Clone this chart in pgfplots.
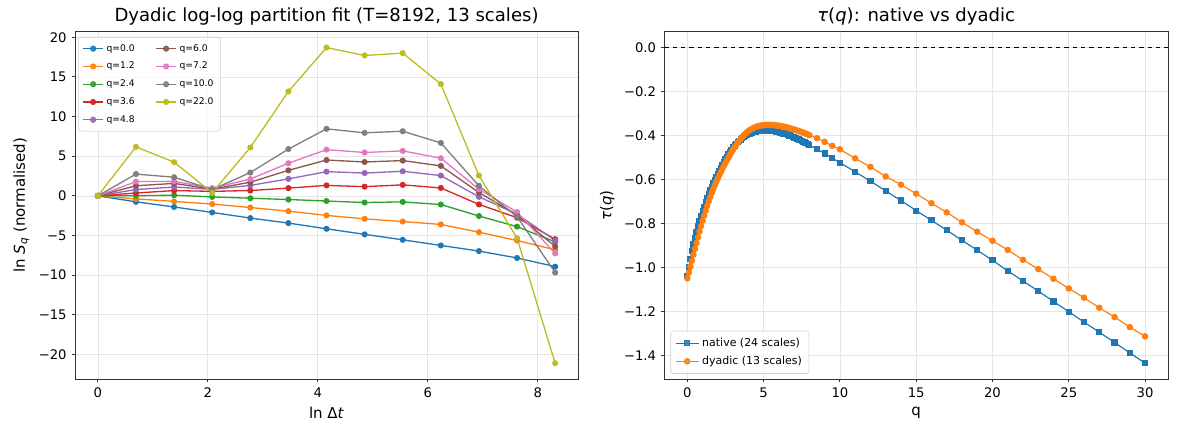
\documentclass[border=0pt]{standalone}
\usepackage{pgfplots}
\pgfplotsset{compat=1.18}
\usepackage{fontspec}
\setmainfont{DejaVu Sans}
\definecolor{c0}{HTML}{1F77B4}
\definecolor{c1}{HTML}{FF7F0E}
\definecolor{c2}{HTML}{2CA02C}
\definecolor{c3}{HTML}{D62728}
\definecolor{c4}{HTML}{9467BD}
\definecolor{c5}{HTML}{8C564B}
\definecolor{c6}{HTML}{E377C2}
\definecolor{c7}{HTML}{7F7F7F}
\definecolor{c8}{HTML}{BCBD22}
\pgfplotsset{
  common/.style={
    scale only axis, anchor=south west,
    tick pos=left, tick align=outside, major tick length=2.5pt,
    tick style={line width=0.6pt, black!80},
    axis line style={line width=0.6pt, black!80},
    grid=major, grid style={line width=0.5pt, black!10},
    tick label style={font=\fontsize{9.5}{11}\selectfont},
    label style={font=\fontsize{10.8}{13}\selectfont},
    title style={font=\fontsize{13}{15}\selectfont, yshift=-4.5pt},
    legend cell align=left,
  },
  sl/.style={line width=0.95pt, mark=*, mark size=1.7pt},
}
\begin{document}
\begin{tikzpicture}
\useasboundingbox (0,0) rectangle (848.16pt,311.04pt);
\begin{axis}[common,
  at={(54pt,38.16pt)}, width=362.2pt, height=250pt,
  xmin=-0.416, xmax=8.734, ymin=-23.09, ymax=20.69,
  xtick={0,2,4,6,8}, xticklabels={0,2,4,6,8},
  ytick={-20,-15,-10,-5,0,5,10,15,20},
  yticklabels={−20,−15,−10,−5,0,5,10,15,20},
  title={Dyadic log-log partition fit (T=8192, 13 scales)},
  xlabel={ln Δ\textit{t}},
  ylabel={ln \textit{S}\textsubscript{\textit{q}} (normalised)},
  legend columns=2,
  legend style={at={(0.006,0.985)}, anchor=north west, font=\fontsize{6.6}{8}\selectfont,
    draw=black!20, rounded corners=2pt, fill=white, fill opacity=0.8, text opacity=1,
    row sep=2.4pt, inner sep=3pt, /tikz/every even column/.append style={column sep=13pt}},
  legend image code/.code={\draw[mark repeat=2,mark phase=2] plot coordinates {(0pt,0pt) (7.2pt,0pt) (14.4pt,0pt)};},
]
\addplot[c0, sl, forget plot] coordinates {(0,0)(0.6931,-0.75)(1.3863,-1.40)(2.0794,-2.09)(2.7726,-2.80)(3.4657,-3.43)(4.1589,-4.15)(4.8520,-4.85)(5.5452,-5.54)(6.2383,-6.25)(6.9315,-6.96)(7.6246,-7.83)(8.3178,-8.92)};
\addplot[c1, sl, forget plot] coordinates {(0,0)(0.6931,-0.38)(1.3863,-0.70)(2.0794,-1.03)(2.7726,-1.47)(3.4657,-1.93)(4.1589,-2.46)(4.8520,-2.90)(5.5452,-3.24)(6.2383,-3.60)(6.9315,-4.58)(7.6246,-5.63)(8.3178,-6.80)};
\addplot[c2, sl, forget plot] coordinates {(0,0)(0.6931,0.02)(1.3863,0.08)(2.0794,-0.13)(2.7726,-0.30)(3.4657,-0.46)(4.1589,-0.65)(4.8520,-0.84)(5.5452,-0.76)(6.2383,-1.09)(6.9315,-2.54)(7.6246,-3.88)(8.3178,-5.80)};
\addplot[c3, sl, forget plot] coordinates {(0,0)(0.6931,0.36)(1.3863,0.67)(2.0794,0.57)(2.7726,0.67)(3.4657,0.98)(4.1589,1.32)(4.8520,1.16)(5.5452,1.39)(6.2383,1.00)(6.9315,-1.08)(7.6246,-2.75)(8.3178,-5.46)};
\addplot[c4, sl, forget plot] coordinates {(0,0)(0.6931,0.80)(1.3863,1.12)(2.0794,0.82)(2.7726,1.32)(3.4657,2.14)(4.1589,3.05)(4.8520,2.88)(5.5452,3.10)(6.2383,2.56)(6.9315,-0.12)(7.6246,-2.30)(8.3178,-5.63)};
\addplot[c5, sl, forget plot] coordinates {(0,0)(0.6931,1.28)(1.3863,1.57)(2.0794,0.86)(2.7726,1.72)(3.4657,3.22)(4.1589,4.52)(4.8520,4.27)(5.5452,4.45)(6.2383,3.78)(6.9315,0.42)(7.6246,-2.40)(8.3178,-6.38)};
\addplot[c6, sl, forget plot] coordinates {(0,0)(0.6931,1.80)(1.3863,1.83)(2.0794,0.98)(2.7726,2.12)(3.4657,4.12)(4.1589,5.83)(4.8520,5.47)(5.5452,5.67)(6.2383,4.75)(6.9315,0.83)(7.6246,-2.04)(8.3178,-7.25)};
\addplot[c7, sl, forget plot] coordinates {(0,0)(0.6931,2.75)(1.3863,2.35)(2.0794,0.80)(2.7726,2.94)(3.4657,5.90)(4.1589,8.45)(4.8520,7.95)(5.5452,8.15)(6.2383,6.68)(6.9315,1.26)(7.6246,-2.63)(8.3178,-9.67)};
\addplot[c8, sl, forget plot] coordinates {(0,0)(0.6931,6.18)(1.3863,4.25)(2.0794,0.38)(2.7726,6.10)(3.4657,13.17)(4.1589,18.70)(4.8520,17.70)(5.5452,18.00)(6.2383,14.10)(6.9315,2.56)(7.6246,-5.33)(8.3178,-21.10)};
\addlegendimage{c0, sl}\addlegendentry{q=0.0}
\addlegendimage{c5, sl}\addlegendentry{q=6.0}
\addlegendimage{c1, sl}\addlegendentry{q=1.2}
\addlegendimage{c6, sl}\addlegendentry{q=7.2}
\addlegendimage{c2, sl}\addlegendentry{q=2.4}
\addlegendimage{c7, sl}\addlegendentry{q=10.0}
\addlegendimage{c3, sl}\addlegendentry{q=3.6}
\addlegendimage{c8, sl}\addlegendentry{q=22.0}
\addlegendimage{c4, sl}\addlegendentry{q=4.8}
\end{axis}
\begin{axis}[common,
  at={(478.4pt,38.16pt)}, width=362.5pt, height=250pt,
  xmin=-1.5, xmax=31.5, ymin=-1.508, ymax=0.0718,
  xtick={0,5,10,15,20,25,30}, xticklabels={0,5,10,15,20,25,30},
  ytick={-1.4,-1.2,-1.0,-0.8,-0.6,-0.4,-0.2,0},
  yticklabels={−1.4,−1.2,−1.0,−0.8,−0.6,−0.4,−0.2,0.0},
  title={\textit{τ}(\textit{q}): native vs dyadic},
  xlabel={q},
  ylabel={\textit{τ}(\textit{q})},
  legend style={at={(0.012,0.015)}, anchor=south west, font=\fontsize{7.9}{9.5}\selectfont,
    draw=black!20, rounded corners=2pt, fill=white, fill opacity=0.8, text opacity=1,
    row sep=1.6pt, inner sep=3pt},
  legend image code/.code={\draw[mark repeat=2,mark phase=2] plot coordinates {(0pt,0pt) (8.4pt,0pt) (16.8pt,0pt)};},
]
\addplot[black, dashed, line width=0.6pt, forget plot] coordinates {(-1.5,0)(31.5,0)};
\addplot[c0, line width=0.85pt, mark=square*, mark size=1.8pt] coordinates {(0,-1.038)(0.1,-0.998)(0.2,-0.961)(0.3,-0.927)(0.4,-0.896)(0.5,-0.867)(0.6,-0.840)(0.7,-0.814)(0.8,-0.790)(0.9,-0.767)(1.0,-0.745)(1.1,-0.724)(1.2,-0.704)(1.3,-0.685)(1.4,-0.667)(1.5,-0.650)(1.6,-0.634)(1.7,-0.618)(1.8,-0.603)(1.9,-0.588)(2.0,-0.574)(2.1,-0.560)(2.2,-0.547)(2.3,-0.534)(2.4,-0.521)(2.5,-0.509)(2.6,-0.497)(2.7,-0.486)(2.8,-0.475)(2.9,-0.465)(3.0,-0.455)(3.1,-0.446)(3.2,-0.438)(3.3,-0.431)(3.4,-0.424)(3.5,-0.418)(3.6,-0.412)(3.7,-0.407)(3.8,-0.402)(3.9,-0.398)(4.0,-0.394)(4.1,-0.391)(4.2,-0.388)(4.3,-0.386)(4.4,-0.384)(4.5,-0.382)(4.6,-0.381)(4.7,-0.380)(4.8,-0.379)(4.9,-0.378)(5.0,-0.378)(5.1,-0.378)(5.2,-0.378)(5.3,-0.378)(5.4,-0.379)(5.5,-0.379)(5.6,-0.380)(5.7,-0.381)(5.8,-0.382)(5.9,-0.383)(6.0,-0.385)(6.1,-0.387)(6.2,-0.389)(6.3,-0.391)(6.4,-0.393)(6.5,-0.395)(6.6,-0.398)(6.7,-0.400)(6.8,-0.403)(6.9,-0.406)(7.0,-0.409)(7.1,-0.412)(7.2,-0.415)(7.3,-0.418)(7.4,-0.421)(7.5,-0.425)(7.6,-0.428)(7.7,-0.432)(7.8,-0.436)(7.9,-0.440)(8.0,-0.444)(8.5,-0.462)(9,-0.482)(9.5,-0.503)(10,-0.524)(11,-0.565)(12,-0.608)(13,-0.652)(14,-0.696)(15,-0.742)(16,-0.786)(17,-0.831)(18,-0.877)(19,-0.922)(20,-0.968)(21,-1.016)(22,-1.062)(23,-1.108)(24,-1.155)(25,-1.202)(26,-1.249)(27,-1.295)(28,-1.342)(29,-1.389)(30,-1.436)};
\addlegendentry{native (24 scales)}
\addplot[c1, line width=0.85pt, mark=*, mark size=1.9pt] coordinates {(0,-1.050)(0.1,-1.024)(0.2,-0.997)(0.3,-0.970)(0.4,-0.943)(0.5,-0.916)(0.6,-0.889)(0.7,-0.863)(0.8,-0.837)(0.9,-0.812)(1.0,-0.788)(1.1,-0.765)(1.2,-0.743)(1.3,-0.721)(1.4,-0.700)(1.5,-0.680)(1.6,-0.661)(1.7,-0.643)(1.8,-0.626)(1.9,-0.610)(2.0,-0.595)(2.1,-0.580)(2.2,-0.566)(2.3,-0.552)(2.4,-0.538)(2.5,-0.525)(2.6,-0.512)(2.7,-0.499)(2.8,-0.487)(2.9,-0.475)(3.0,-0.464)(3.1,-0.453)(3.2,-0.443)(3.3,-0.433)(3.4,-0.424)(3.5,-0.415)(3.6,-0.407)(3.7,-0.399)(3.8,-0.392)(3.9,-0.386)(4.0,-0.380)(4.1,-0.375)(4.2,-0.371)(4.3,-0.367)(4.4,-0.364)(4.5,-0.361)(4.6,-0.359)(4.7,-0.357)(4.8,-0.355)(4.9,-0.354)(5.0,-0.353)(5.1,-0.352)(5.2,-0.352)(5.3,-0.352)(5.4,-0.352)(5.5,-0.352)(5.6,-0.353)(5.7,-0.353)(5.8,-0.354)(5.9,-0.355)(6.0,-0.356)(6.1,-0.357)(6.2,-0.358)(6.3,-0.360)(6.4,-0.361)(6.5,-0.363)(6.6,-0.365)(6.7,-0.367)(6.8,-0.369)(6.9,-0.371)(7.0,-0.373)(7.1,-0.375)(7.2,-0.377)(7.3,-0.380)(7.4,-0.382)(7.5,-0.385)(7.6,-0.387)(7.7,-0.390)(7.8,-0.393)(7.9,-0.396)(8.0,-0.398)(8.5,-0.412)(9,-0.429)(9.5,-0.447)(10,-0.463)(11,-0.504)(12,-0.543)(13,-0.586)(14,-0.624)(15,-0.665)(16,-0.708)(17,-0.750)(18,-0.795)(19,-0.838)(20,-0.879)(21,-0.921)(22,-0.966)(23,-1.008)(24,-1.052)(25,-1.096)(26,-1.138)(27,-1.184)(28,-1.226)(29,-1.272)(30,-1.314)};
\addlegendentry{dyadic (13 scales)}
\end{axis}
\end{tikzpicture}
\end{document}
